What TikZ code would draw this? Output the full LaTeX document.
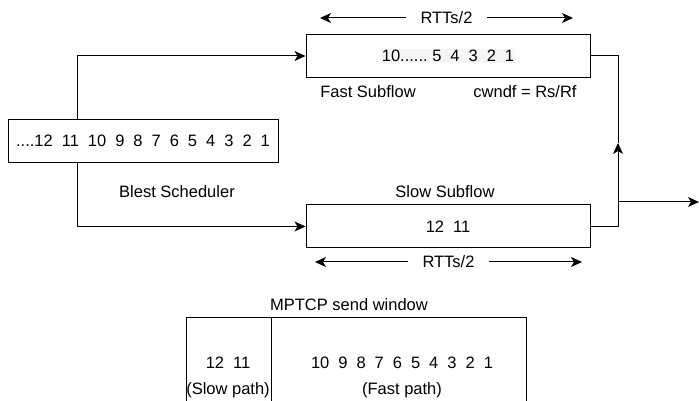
\documentclass[tikz,border=0pt]{standalone}
\usepackage{fontspec}
\setmainfont{Liberation Sans}
\usetikzlibrary{arrows.meta,positioning}
\newcommand\fs{\fontsize{16.5}{20}\selectfont}
\newcommand\numsp{\fs\spaceskip 9pt\relax}

\begin{document}
\begin{tikzpicture}[x=1pt,y=1pt,font=\fs,line width=1pt,
  box/.style={draw,inner sep=0pt,minimum height=43pt},
  cell/.style={draw,inner sep=0pt,outer sep=0pt,minimum height=103pt},
  nums/.style={font=\numsp},
  lbl/.style={inner sep=1pt},
  ed/.style={-{Stealth[length=11pt,width=10pt,inset=3pt]}},
  span/.style={{Stealth[length=11pt,width=10pt,inset=3pt]}-{Stealth[length=11pt,width=10pt,inset=3pt]}}]
\useasboundingbox (0,0) rectangle (699,401);
% scheduler and subflows
\node[box,nums,minimum width=270pt] (sched) at (143,260) {....12 11 10 9 8 7 6 5 4 3 2 1};
\node[lbl] (bl) at (177,209) {Blest Scheduler};
\node[box,nums,minimum width=284pt] (fast) at (448,345)
  {\fboxsep=1pt\colorbox{black!4}{10......\kern4.6pt 5 4 3 2 1}};
\node[lbl] (fl) at (368,309) {Fast Subflow};
\node[lbl] (cw) at (525,309) {cwndf = Rs/Rf};
\node[lbl] (sl) at (445,209) {Slow Subflow};
\node[box,nums,minimum width=284pt] (slow) at (448,174.5) {12 11};
% RTT spans
\coordinate (ta) at (320,383); \coordinate (tb) at (573,383);
\coordinate (ba) at (315,139); \coordinate (bb) at (582,139);
\draw[span] (ta) -- node[fill=white,inner xsep=15pt,inner ysep=1pt]{RTTs/2} (tb);
\draw[span] (ba) -- node[fill=white,inner xsep=15pt,inner ysep=1pt]{RTTs/2} (bb);
% connectors
\draw[ed] ([xshift=-66pt]sched.north) |- (fast.west);
\draw[ed] ([xshift=-66pt]sched.south) |- (slow.west);
\coordinate (mid) at (618,258);
\coordinate (out) at (699,199);
\draw (fast.east) -| (mid);
\draw[ed] (slow.east) -| (mid);
\draw[ed] (mid |- out) -- (out);
% send window
\node[lbl] (mw) at (349,96) {MPTCP send window};
\node[cell,minimum width=85pt] (slowcell) at (228.5,31.5) {};
\node[cell,minimum width=255pt,anchor=west] (fastcell) at (slowcell.east) {};
\node[lbl,nums] (s1) at (228,38) {12 11};
\node[lbl] (s2) at (228,11) {(Slow path)};
\node[lbl,nums] (f1) at (402,38) {10 9 8 7 6 5 4 3 2 1};
\node[lbl] (f2) at (402,11) {(Fast path)};
\end{tikzpicture}
\end{document}
